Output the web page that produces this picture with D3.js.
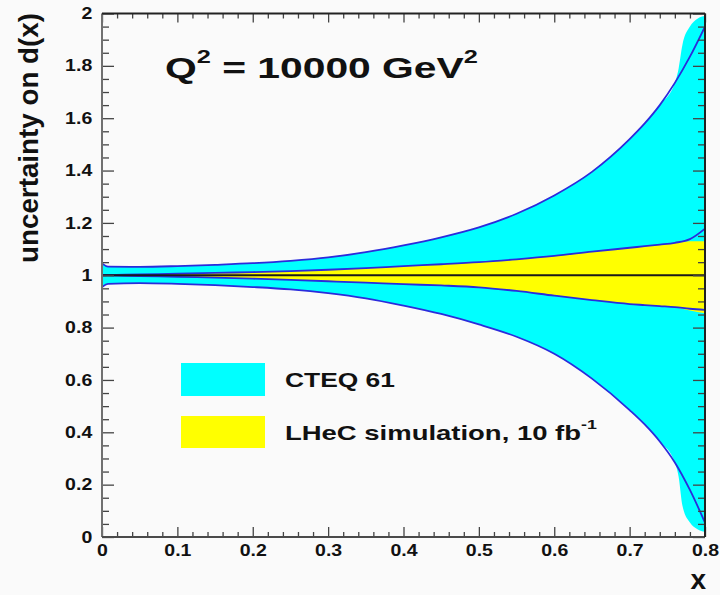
<!DOCTYPE html>
<html>
<head>
<meta charset="utf-8">
<script src="https://cdn.jsdelivr.net/npm/d3@7"></script>
<style>
  html, body { margin: 0; padding: 0; background: #fafafa; }
  svg { display: block; }
  text { font-family: "Liberation Sans", Arial, Helvetica, sans-serif; font-weight: bold; fill: #111; }
</style>
</head>
<body>
<svg id="chart" width="720" height="595"></svg>
<script>
// ---------------- data ----------------
const xGrid      = [0, 0.008, 0.05, 0.1, 0.15, 0.2, 0.25, 0.3, 0.35, 0.4, 0.45, 0.5, 0.55, 0.6, 0.65, 0.7, 0.72, 0.74, 0.76, 0.78, 0.8];
const cteqUpper  = [1.045, 1.033, 1.032, 1.035, 1.040, 1.046, 1.055, 1.068, 1.088, 1.114, 1.145, 1.183, 1.235, 1.305, 1.395, 1.52, 1.58, 1.65, 1.735, 1.835, 1.95];
const cteqLower  = [0.955, 0.967, 0.970, 0.967, 0.962, 0.955, 0.946, 0.932, 0.912, 0.884, 0.852, 0.812, 0.765, 0.70, 0.605, 0.485, 0.43, 0.365, 0.285, 0.18, 0.055];
const lhecUpper  = [1.0, 1.0005, 1.003, 1.006, 1.009, 1.012, 1.016, 1.021, 1.027, 1.035, 1.042, 1.05, 1.061, 1.074, 1.09, 1.105, 1.111, 1.117, 1.124, 1.138, 1.178];
const lhecLower  = [1.0, 0.9995, 0.997, 0.994, 0.991, 0.987, 0.982, 0.977, 0.972, 0.966, 0.961, 0.954, 0.94, 0.922, 0.905, 0.89, 0.886, 0.882, 0.878, 0.872, 0.868];
// filled band edges near x = 0.8 (fill differs from boundary lines)
const cteqEdgeX     = [0.76, 0.765, 0.77, 0.78, 0.79, 0.8];
const cteqEdgeUpper = [1.735, 1.79, 1.88, 1.95, 1.98, 1.99];
const cteqEdgeLower = [0.285, 0.23, 0.12, 0.055, 0.03, 0.02];
const lhecEdgeX     = [0.76, 0.78, 0.8];
const lhecEdgeUpper = [1.124, 1.13, 1.13];
const lhecEdgeLower = [0.878, 0.865, 0.855];

const xMajorTicks = [0, 0.1, 0.2, 0.3, 0.4, 0.5, 0.6, 0.7, 0.8];
const yMajorTicks = [0, 0.2, 0.4, 0.6, 0.8, 1, 1.2, 1.4, 1.6, 1.8, 2];
const xMinorTicks = d3.range(0, 41).map(i => i * 0.02);
const yMinorTicks = d3.range(0, 41).map(i => i * 0.05);
const legendLabels = ["CTEQ 61", "LHeC simulation, 10 fb"];
const titleText = "Q";

// ---------------- layout ----------------
const svg = d3.select("#chart");
const PX0 = 102, PX1 = 705, PY0 = 537, PY1 = 13.5;
const x = d3.scaleLinear().domain([0, 0.8]).range([PX0, PX1]);
const y = d3.scaleLinear().domain([0, 2]).range([PY0, PY1]);

svg.append("rect").attr("width", 720).attr("height", 595).attr("fill", "#fafafa");

svg.append("defs").append("clipPath").attr("id", "plotclip")
  .append("rect").attr("x", PX0).attr("y", PY1).attr("width", PX1 - PX0).attr("height", PY0 - PY1);

const plot = svg.append("g").attr("clip-path", "url(#plotclip)");

function bandPoints(upArr, loArr, edgeX, edgeUp, edgeLo) {
  const pts = [];
  xGrid.forEach((xv, i) => { if (xv < edgeX[0]) pts.push({x: xv, u: upArr[i], l: loArr[i]}); });
  edgeX.forEach((xv, i) => pts.push({x: xv, u: edgeUp[i], l: edgeLo[i]}));
  return pts;
}

const area = d3.area().x(d => x(d.x)).y0(d => y(d.l)).y1(d => y(d.u)).curve(d3.curveMonotoneX);
const line = d3.line().x(d => x(d[0])).y(d => y(d[1])).curve(d3.curveMonotoneX);

plot.append("path")
  .datum(bandPoints(cteqUpper, cteqLower, cteqEdgeX, cteqEdgeUpper, cteqEdgeLower))
  .attr("d", area).attr("fill", "#00ffff");

plot.append("path")
  .datum(bandPoints(lhecUpper, lhecLower, lhecEdgeX, lhecEdgeUpper, lhecEdgeLower))
  .attr("d", area).attr("fill", "#ffff00");

[cteqUpper, cteqLower, lhecUpper, lhecLower].forEach(arr => {
  plot.append("path")
    .datum(xGrid.map((xv, i) => [xv, arr[i]]))
    .attr("d", line).attr("fill", "none")
    .attr("stroke", "#2b2bdc").attr("stroke-width", 1.8);
});

// reference line at 1
plot.append("line")
  .attr("x1", x(0)).attr("x2", x(0.8)).attr("y1", y(1)).attr("y2", y(1))
  .attr("stroke", "#1a1a1a").attr("stroke-width", 2);

// ---------------- axes ----------------
const isMajor = (v, majors) => majors.some(m => Math.abs(m - v) < 1e-9);
const xMinor = xMinorTicks.filter(v => !isMajor(v, xMajorTicks));
const yMinor = yMinorTicks.filter(v => !isMajor(v, yMajorTicks));
const fmt = d => String(+d.toFixed(1));

function styleAxis(g) {
  g.select(".domain").remove();
  g.selectAll(".tick line").attr("stroke", "#444").attr("stroke-width", 1.3);
  g.selectAll("text").style("font-size", "16px").attr("fill", "#111")
    .style("font-family", '"Liberation Sans", Arial, sans-serif').style("font-weight", "bold");
}

// bottom
svg.append("g").attr("transform", `translate(0,${PY0})`)
  .call(d3.axisBottom(x).tickValues(xMajorTicks).tickSize(-10).tickPadding(8).tickFormat(fmt))
  .call(styleAxis)
  .call(g => g.selectAll("text").attr("transform", "scale(1.22,1)"));
svg.append("g").attr("transform", `translate(0,${PY0})`)
  .call(d3.axisBottom(x).tickValues(xMinor).tickSize(-5).tickFormat(""))
  .call(styleAxis);
// top
svg.append("g").attr("transform", `translate(0,${PY1})`)
  .call(d3.axisTop(x).tickValues(xMajorTicks).tickSize(-9).tickFormat(""))
  .call(styleAxis);
svg.append("g").attr("transform", `translate(0,${PY1})`)
  .call(d3.axisTop(x).tickValues(xMinor).tickSize(-5).tickFormat(""))
  .call(styleAxis);
// left
svg.append("g").attr("transform", `translate(${PX0},0)`)
  .call(d3.axisLeft(y).tickValues(yMajorTicks).tickSize(-12).tickPadding(8).tickFormat(fmt))
  .call(styleAxis)
  .call(g => g.selectAll("text").attr("transform", "scale(1.22,1)"));
svg.append("g").attr("transform", `translate(${PX0},0)`)
  .call(d3.axisLeft(y).tickValues(yMinor).tickSize(-7).tickFormat(""))
  .call(styleAxis);
// right
svg.append("g").attr("transform", `translate(${PX1},0)`)
  .call(d3.axisRight(y).tickValues(yMajorTicks).tickSize(-12).tickFormat(""))
  .call(styleAxis);
svg.append("g").attr("transform", `translate(${PX1},0)`)
  .call(d3.axisRight(y).tickValues(yMinor).tickSize(-7).tickFormat(""))
  .call(styleAxis);

// frame
svg.append("line").attr("x1", PX0).attr("x2", PX0).attr("y1", PY1).attr("y2", PY0).attr("stroke", "#707070").attr("stroke-width", 2);
svg.append("line").attr("x1", PX0).attr("x2", PX1).attr("y1", PY0).attr("y2", PY0).attr("stroke", "#4a4a4a").attr("stroke-width", 2);
svg.append("line").attr("x1", PX0).attr("x2", PX1).attr("y1", PY1).attr("y2", PY1).attr("stroke", "#222").attr("stroke-width", 2);
svg.append("line").attr("x1", PX1).attr("x2", PX1).attr("y1", PY1).attr("y2", PY0).attr("stroke", "#222").attr("stroke-width", 2);

// ---------------- texts ----------------
function fitWidth(sel, x0, y0, targetW) {
  const w = sel.node().getBBox().width;
  sel.attr("x", 0).attr("y", 0)
     .attr("transform", `translate(${x0},${y0}) scale(${targetW / w},1)`);
}

// title
const title = svg.append("text").style("font-size", "29px");
title.append("tspan").text(titleText);
title.append("tspan").text("2").style("font-size", "18px").attr("dy", -15);
title.append("tspan").text(" = 10000 GeV").attr("dy", 15);
title.append("tspan").text("2").style("font-size", "18px").attr("dy", -15);
fitWidth(title, 165, 78, 313);

// y label
const ylab = svg.append("text").style("font-size", "27px").attr("text-anchor", "middle")
  .text("uncertainty on d(x)");
{
  const w = ylab.node().getBBox().width;
  ylab.attr("transform", `translate(38,138) rotate(-90) scale(${250 / w},1)`);
}

// x label
svg.append("text").style("font-size", "28px").attr("text-anchor", "end")
  .attr("x", 706).attr("y", 589).text("x");

// legend
svg.append("rect").attr("x", 181).attr("y", 363).attr("width", 84).attr("height", 33).attr("fill", "#00ffff");
svg.append("rect").attr("x", 181).attr("y", 416).attr("width", 84).attr("height", 32).attr("fill", "#ffff00");

const l1 = svg.append("text").style("font-size", "20px").text(legendLabels[0]);
fitWidth(l1, 285, 387, 110);
const l2 = svg.append("text").style("font-size", "20px");
l2.append("tspan").text(legendLabels[1]);
l2.append("tspan").text("-1").style("font-size", "13px").attr("dy", -11);
fitWidth(l2, 285, 440, 312);
</script>
</body>
</html>
